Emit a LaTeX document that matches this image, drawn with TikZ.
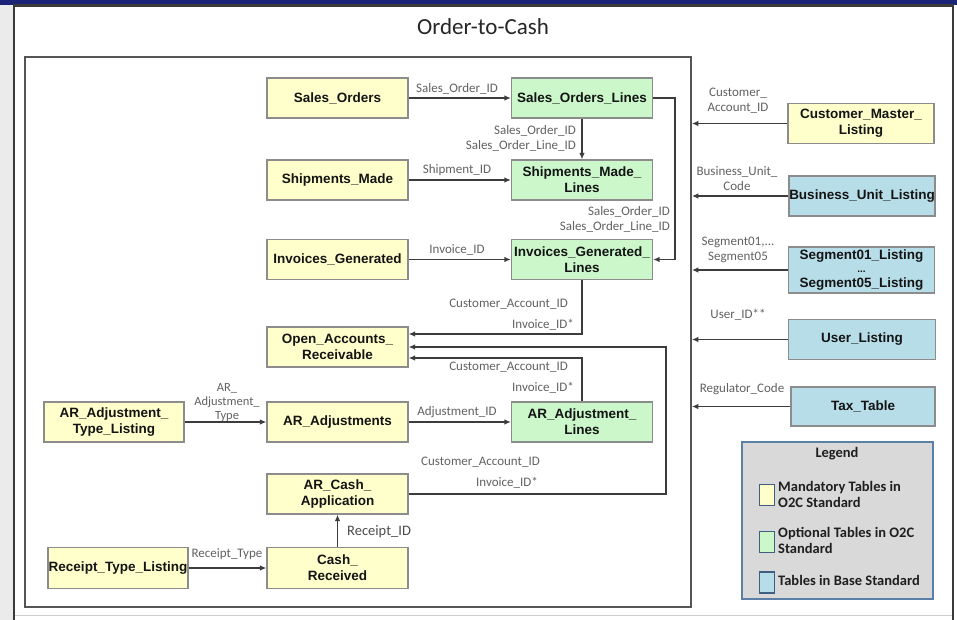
\documentclass[tikz,border=0pt]{standalone}
\usepackage{fontspec}
\setmainfont{Liberation Sans}
\newfontfamily\calib{Carlito}
\usetikzlibrary{arrows.meta,calc}

\definecolor{navy}{HTML}{1B2478}
\definecolor{sidegray}{HTML}{EBEBEB}
\definecolor{framec}{HTML}{3A3A3A}
\definecolor{panelc}{HTML}{555555}
\definecolor{boxedge}{HTML}{8C8C8C}
\definecolor{yelfill}{HTML}{FFFFCC}
\definecolor{grnfill}{HTML}{CBF7CB}
\definecolor{blufill}{HTML}{B7DEE8}
\definecolor{linec}{HTML}{3C3C3C}
\definecolor{lblgray}{HTML}{626262}
\definecolor{legfill}{HTML}{D9D9D9}
\definecolor{legedge}{HTML}{5B7FA6}
\definecolor{swatchedge}{HTML}{3F5F80}

\tikzset{
  tbl/.style={draw=boxedge, line width=1.2pt, minimum width=141pt, minimum height=40pt,
    inner sep=0pt, align=center, text=black!92,
    font=\fontsize{13.5}{16}\selectfont\bfseries},
  yel/.style={tbl, fill=yelfill},
  grn/.style={tbl, fill=grnfill},
  blu/.style={tbl, fill=blufill, minimum width=146pt},
  conn/.style={draw=linec, line width=1.4pt, -{Latex[length=6.5pt,width=5.5pt]}},
  lbl/.style={font=\calib\fontsize{13}{15}\selectfont, text=lblgray, inner sep=0pt, align=center},
  legtxt/.style={font=\calib\fontsize{14.5}{16}\selectfont\bfseries, text=black!88, inner sep=0pt, align=left, anchor=west},
  swatch/.style={draw=swatchedge, line width=1.5pt, minimum width=15pt, minimum height=21pt, inner sep=0pt},
}

\begin{document}
\begin{tikzpicture}[x=1pt,y=-1pt]
\useasboundingbox (0,0) rectangle (957,620);

% page background, top band and left strip
\fill[white] (0,0) rectangle (957,620);
\fill[sidegray] (0,5) rectangle (13,620);
\fill[navy] (0,0) rectangle (957,5);

% outer frame
\draw[framec, line width=2.5pt] (14,620) -- (14,5.5) -- (953,5.5) -- (953,620);
\draw[black!20, line width=1pt] (15,615) -- (952,615);

% title
\node[font=\calib\fontsize{23}{26}\selectfont, text=black!85, inner sep=0pt] (title) at (483,27) {Order-to-Cash};

% inner panel
\node[draw=panelc, line width=1.8pt, minimum width=666pt, minimum height=550pt, inner sep=0pt] (panel) at (358,332) {};

% tables of the order-to-cash standard
\node[yel] (so)   at (337.5,98)  {Sales\_Orders};
\node[grn] (sol)  at (582,98)    {Sales\_Orders\_Lines};
\node[yel] (sm)   at (337.5,180) {Shipments\_Made};
\node[grn] (sml)  at (582,180)   {Shipments\_Made\_\\Lines};
\node[yel] (ig)   at (337.5,259.5) {Invoices\_Generated};
\node[grn] (igl)  at (582,259.5) {Invoices\_Generated\_\\Lines};
\node[yel] (oar)  at (337.5,347) {Open\_Accounts\_\\Receivable};
\node[yel, minimum width=140pt] (aatl) at (114,422) {AR\_Adjustment\_\\Type\_Listing};
\node[yel] (aa)   at (337.5,422) {AR\_Adjustments};
\node[grn] (aal)  at (582,422)   {AR\_Adjustment\_\\Lines};
\node[yel] (aca)  at (337.5,494) {AR\_Cash\_\\Application};
\node[yel, minimum width=140pt, minimum height=41pt] (rtl) at (118,568) {Receipt\_Type\_Listing};
\node[yel, minimum height=41pt] (cr) at (337.5,568) {Cash\_\\Received};

% base standard tables
\node[yel, minimum width=146pt] (cml) at (861,123.5) {Customer\_Master\_\\Listing};
\node[blu] (bul) at (862,196) {Business\_Unit\_Listing};
\node[blu, minimum height=46pt] (seg) at (861.5,270) {Segment01\_Listing\\[-3pt]{\fontsize{10}{10}\selectfont\bfseries ...}\\[-1pt]Segment05\_Listing};
\node[blu, minimum width=147pt] (ul) at (862,339.5) {User\_Listing};
\node[blu, minimum width=144pt, minimum height=39pt] (tt) at (863,406.5) {Tax\_Table};

% connectors inside the panel
\draw[conn] (so.east) -- (sol.west);
\draw[conn] (sol.south) -- (sml.north);
\draw[conn] (sm.east) -- (sml.west);
\draw[conn] (ig.east) -- (igl.west);
\coordinate (r1) at (675,98);
\draw[conn] (sol.east) -- (r1) |- (igl.east);
\draw[conn] (igl.south) |- ([yshift=13pt]oar.east);
\draw[conn] (aal.north) |- ([yshift=-11pt]oar.east);
\coordinate (r2) at (666,494);
\draw[conn] (aca.east) -- (r2) |- (oar.east);
\draw[conn] (aatl.east) -- (aa.west);
\draw[conn] (aa.east) -- (aal.west);
\draw[conn] (cr.north) -- (aca.south);
\draw[conn] (rtl.east) -- (cr.west |- rtl.east);

% connectors from the base standard tables
\draw[conn] (cml.west) -- (cml.west -| panel.east);
\draw[conn] (bul.west) -- (bul.west -| panel.east);
\draw[conn] (seg.west) -- (seg.west -| panel.east);
\draw[conn] (ul.west) -- (ul.west -| panel.east);
\draw[conn] (tt.west) -- (tt.west -| panel.east);

% key labels
\node[lbl] (k1) at (457,89) {Sales\_Order\_ID};
\node[lbl, anchor=east, align=right] (k2) at (576,138) {Sales\_Order\_ID\\Sales\_Order\_Line\_ID};
\node[lbl] (k3) at (457,170.5) {Shipment\_ID};
\node[lbl, anchor=east, align=right] (k4) at (670,219.5) {Sales\_Order\_ID\\Sales\_Order\_Line\_ID};
\node[lbl] (k5) at (457,250) {Invoice\_ID};
\node[lbl, anchor=east] (k6) at (568,304) {Customer\_Account\_ID};
\node[lbl, anchor=east] (k7) at (574,325) {Invoice\_ID*};
\node[lbl, anchor=east] (k8) at (568,367) {Customer\_Account\_ID};
\node[lbl, anchor=east] (k9) at (574,388) {Invoice\_ID*};
\node[lbl, font=\calib\fontsize{12.5}{14}\selectfont] (k10) at (227,402) {AR\_\\Adjustment\_\\Type};
\node[lbl] (k11) at (457,412.5) {Adjustment\_ID};
\node[lbl] (k12) at (480.5,462) {Customer\_Account\_ID};
\node[lbl] (k13) at (507,483) {Invoice\_ID*};
\node[lbl, anchor=west, font=\calib\fontsize{14.5}{16}\selectfont, text=black!70] (k14) at (347,532) {Receipt\_ID};
\node[lbl] (k15) at (227,554.5) {Receipt\_Type};
\node[lbl] (k16) at (738,101) {Customer\_\\Account\_ID};
\node[lbl] (k17) at (737,178.5) {Business\_Unit\_\\Code};
\node[lbl] (k18) at (738,249.5) {Segment01,...\\Segment05};
\node[lbl] (k19) at (738,315) {User\_ID**};
\node[lbl] (k20) at (742,389) {Regulator\_Code};

% legend
\node[draw=legedge, fill=legfill, line width=2pt, minimum width=191pt, minimum height=157pt, inner sep=0pt] (legend) at (837,520.5) {};
\node[font=\calib\fontsize{14.5}{16}\selectfont\bfseries, text=black!88, inner sep=0pt] (legtitle) at (837,454) {Legend};
\node[swatch, fill=yelfill] (sw1) at (767,495) {};
\node[swatch, fill=grnfill] (sw2) at (767,542) {};
\node[swatch, fill=blufill] (sw3) at (767,582.5) {};
\node[legtxt] (lt1) at (778,494) {Mandatory Tables in\\O2C Standard};
\node[legtxt] (lt2) at (778,540.5) {Optional Tables in O2C\\Standard};
\node[legtxt] (lt3) at (778,580.5) {Tables in Base Standard};
\end{tikzpicture}
\end{document}
